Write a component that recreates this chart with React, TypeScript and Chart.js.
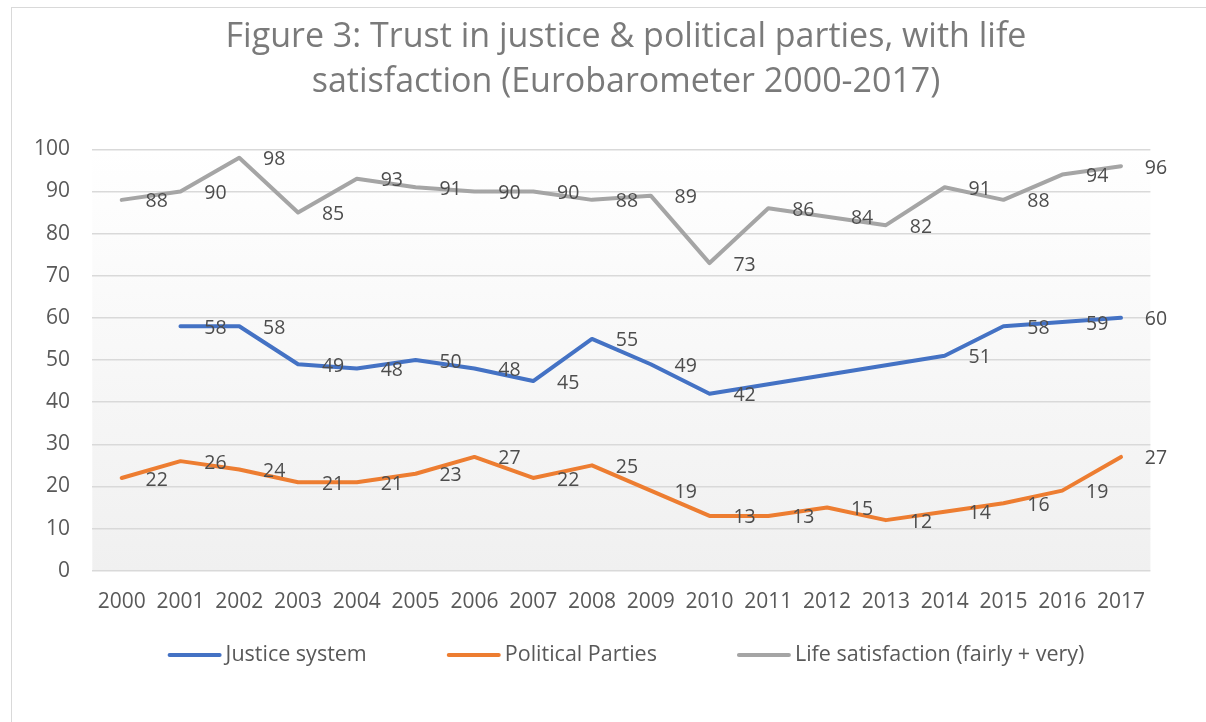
import React, { useEffect, useRef } from "react";
import { Chart, registerables } from "chart.js";

Chart.register(...registerables);

// ---- Data ----
const years = ["2000", "2001", "2002", "2003", "2004", "2005", "2006", "2007", "2008", "2009", "2010", "2011", "2012", "2013", "2014", "2015", "2016", "2017"];
const justiceSystem = [null, 58, 58, 49, 48, 50, 48, 45, 55, 49, 42, null, null, null, 51, 58, 59, 60];
const politicalParties = [22, 26, 24, 21, 21, 23, 27, 22, 25, 19, 13, 13, 15, 12, 14, 16, 19, 27];
const lifeSatisfaction = [88, 90, 98, 85, 93, 91, 90, 90, 88, 89, 73, 86, 84, 82, 91, 88, 94, 96];
const seriesNames = ["Justice system", "Political Parties", "Life satisfaction (fairly + very)"];
const titleLines = ["Figure 3: Trust in justice & political parties, with life", "satisfaction (Eurobarometer 2000-2017)"];
const yMin = 0;
const yMax = 100;
const yStep = 10;

// ---- Styles ----
const FONT = "'Open Sans', Lato, sans-serif";
const COLORS = ["#4472C4", "#ED7D31", "#A5A5A5"];
const TICK_COLOR = "#595959";
const LABEL_COLOR = "#4d4d4d";
const TITLE_COLOR = "#7a7a7a";
const GRID_COLOR = "#d9d9d9";
const CANVAS_W = 1228;
const CANVAS_H = 740;

const plotBackground = {
  id: "plotBackground",
  beforeDraw(chart: any) {
    const { ctx, chartArea } = chart;
    if (!chartArea) return;
    const g = ctx.createLinearGradient(0, chartArea.top, 0, chartArea.bottom);
    g.addColorStop(0, "#ffffff");
    g.addColorStop(1, "#f0f0f0");
    ctx.save();
    ctx.fillStyle = g;
    ctx.fillRect(chartArea.left, chartArea.top, chartArea.right - chartArea.left, chartArea.bottom - chartArea.top);
    ctx.restore();
  },
};

const dataLabels = {
  id: "dataLabels",
  afterDatasetsDraw(chart: any) {
    const { ctx } = chart;
    ctx.save();
    ctx.font = `19.5px ${FONT}`;
    ctx.fillStyle = LABEL_COLOR;
    ctx.textAlign = "center";
    ctx.textBaseline = "middle";
    chart.data.datasets.forEach((ds: any, di: number) => {
      const meta = chart.getDatasetMeta(di);
      meta.data.forEach((pt: any, i: number) => {
        const v = ds.data[i];
        if (v === null || v === undefined || pt.skip) return;
        ctx.fillText(String(v), pt.x + 35, pt.y + 2);
      });
    });
    ctx.restore();
  },
};

const customLegend = {
  id: "customLegend",
  afterDraw(chart: any) {
    const { ctx } = chart;
    const lineLen = 54;
    const gapText = 4;
    const gapItem = 80;
    const y = 647;
    ctx.save();
    ctx.font = `21.5px ${FONT}`;
    ctx.textBaseline = "middle";
    ctx.textAlign = "left";
    const items = chart.data.datasets.map((ds: any) => ({
      label: ds.label,
      color: ds.borderColor,
      w: ctx.measureText(ds.label).width,
    }));
    const total = items.reduce((s: number, it: any) => s + lineLen + gapText + it.w, 0) + gapItem * (items.length - 1);
    let x = chart.width / 2 - total / 2;
    items.forEach((it: any) => {
      ctx.strokeStyle = it.color;
      ctx.lineWidth = 4;
      ctx.lineCap = "round";
      ctx.beginPath();
      ctx.moveTo(x + 2, y);
      ctx.lineTo(x + lineLen - 2, y);
      ctx.stroke();
      ctx.fillStyle = TICK_COLOR;
      ctx.fillText(it.label, x + lineLen + gapText, y);
      x += lineLen + gapText + it.w + gapItem;
    });
    ctx.restore();
  },
};

export default function App() {
  const canvasRef = useRef<HTMLCanvasElement | null>(null);

  useEffect(() => {
    let chart: Chart | null = null;
    let cancelled = false;
    const build = () => {
      if (cancelled || !canvasRef.current) return;
      const seriesData = [justiceSystem, politicalParties, lifeSatisfaction];
      chart = new Chart(canvasRef.current, {
        type: "line",
        data: {
          labels: years,
          datasets: seriesData.map((d, i) => ({
            label: seriesNames[i],
            data: d,
            borderColor: COLORS[i],
            backgroundColor: COLORS[i],
            borderWidth: 4,
            pointRadius: 0,
            pointHoverRadius: 0,
            tension: 0,
            borderCapStyle: "round",
            borderJoinStyle: "round",
            spanGaps: true,
            fill: false,
          })),
        },
        options: {
          responsive: false,
          animation: false,
          events: [],
          layout: { padding: { left: 0, right: 0, top: 0, bottom: 117.3 } },
          plugins: {
            legend: { display: false },
            tooltip: { enabled: false },
            title: {
              display: true,
              text: titleLines,
              color: TITLE_COLOR,
              font: { family: FONT, size: 34, weight: "normal", lineHeight: "45px" },
              padding: { top: 7.3, bottom: 44 },
            },
          },
          scales: {
            x: {
              type: "category",
              offset: true,
              grid: { display: false, drawTicks: false },
              border: { display: false },
              ticks: {
                color: TICK_COLOR,
                font: { family: FONT, size: 21 },
                padding: 18.7,
                maxRotation: 0,
                autoSkip: false,
              },
              afterFit: (s: any) => {
                s.height = 60;
              },
            },
            y: {
              min: yMin,
              max: yMax,
              grid: { color: GRID_COLOR, lineWidth: 1.5, drawTicks: false },
              border: { display: false },
              ticks: {
                stepSize: yStep,
                color: TICK_COLOR,
                font: { family: FONT, size: 21 },
                padding: 22.3,
              },
              afterFit: (s: any) => {
                s.width = 80.3;
              },
            },
            rightGap: {
              type: "linear",
              position: "right",
              display: true,
              min: yMin,
              max: yMax,
              grid: { display: false, drawTicks: false },
              border: { display: false },
              ticks: { display: false },
              afterFit: (s: any) => {
                s.width = 89.6;
              },
            },
          },
        },
        plugins: [plotBackground, dataLabels, customLegend],
      });
    };
    const fontsApi = (document as any).fonts;
    if (fontsApi && fontsApi.load) {
      Promise.all([fontsApi.load(`20px 'Open Sans'`), fontsApi.load(`34px 'Open Sans'`)])
        .catch(() => null)
        .then(build);
    } else {
      build();
    }
    return () => {
      cancelled = true;
      if (chart) chart.destroy();
    };
  }, []);

  return (
    <div style={{ position: "absolute", left: 0, top: 0, width: 1206, height: 722, overflow: "hidden", background: "#ffffff" }}>
      <div
        style={{
          position: "absolute",
          left: 11,
          top: 7,
          width: CANVAS_W,
          height: CANVAS_H,
          borderLeft: "1px solid #d9d9d9",
          borderTop: "1px solid #d9d9d9",
        }}
      >
        <canvas ref={canvasRef} width={CANVAS_W} height={CANVAS_H} style={{ display: "block" }} />
      </div>
    </div>
  );
}
